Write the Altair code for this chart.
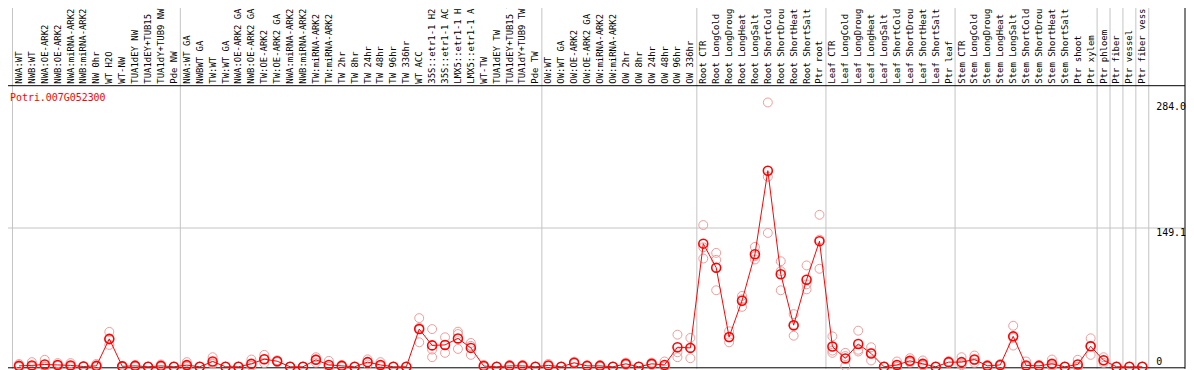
import altair as alt
import pandas as pd

labels = [
    "NWA:WT", "NWB:WT", "NWA:OE-ARK2", "NWB:OE-ARK2", "NWA:miRNA-ARK2", "NWB:miRNA-ARK2",
    "NW 0hr", "WT H2O", "WT-NW", "TUA1dEY NW", "TUA1dEY+TUB15 NW", "TUA1dY+TUB9 NW", "Pde NW",
    "NWA:WT GA", "NWBWT GA", "TW:WT", "TW:WT GA", "NWA:OE-ARK2 GA", "NWB:OE-ARK2 GA",
    "TW:OE-ARK2", "TW:OE-ARK2 GA", "NWA:miRNA-ARK2", "NWB:miRNA-ARK2", "TW:miRNA-ARK2",
    "TW:miRNA-ARK2", "TW 2hr", "TW 8hr", "TW 24hr", "TW 48hr", "TW 96hr", "TW 336hr",
    "WT ACC", "35S::etr1-1 H2O", "35S::etr1-1 ACC", "LMX5::etr1-1 H2O", "LMX5::etr1-1 ACC",
    "WT-TW", "TUA1dEY TW", "TUA1dEY+TUB15 TW", "TUA1dY+TUB9 TW", "Pde TW",
    "OW:WT", "OW:WT GA", "OW:OE-ARK2", "OW:OE-ARK2 GA", "OW:miRNA-ARK2", "OW:miRNA-ARK2",
    "OW 2hr", "OW 8hr", "OW 24hr", "OW 48hr", "OW 96hr", "OW 336hr",
    "Root CTR", "Root LongCold", "Root LongDrought", "Root LongHeat", "Root LongSalt",
    "Root ShortCold", "Root ShortDrought", "Root ShortHeat", "Root ShortSalt", "Ptr root",
    "Leaf CTR", "Leaf LongCold", "Leaf LongDrought", "Leaf LongHeat", "Leaf LongSalt",
    "Leaf ShortCold", "Leaf ShortDrought", "Leaf ShortHeat", "Leaf ShortSalt", "Ptr leaf",
    "Stem CTR", "Stem LongCold", "Stem LongDrought", "Stem LongHeat", "Stem LongSalt",
    "Stem ShortCold", "Stem ShortDrought", "Stem ShortHeat", "Stem ShortSalt", "Ptr shoot",
    "Ptr xylem", "Ptr phloem", "Ptr fiber", "Ptr vessel", "Ptr fiber vessel",
]

means = [
    1, 1.5, 2.5, 2, 1.5, 0.3, 1, 30, 0.5, 1, 0, 1, 0,
    1.8, 0, 5.7, 0, 0, 3.2, 8.2, 6, 0, 0, 7.5, 2, 1, 0, 5, 2, 0, 0,
    40.5, 23, 23.5, 30.5, 20.3, 0.8, 0, 1, 1, 0,
    1.5, 0, 4.3, 1, 1, 0, 3.2, 0, 3.2, 2, 21, 20.3,
    132.3, 106.5, 32, 71, 121, 210.7, 99.5, 44.7, 93.6, 135,
    21.7, 9, 24.5, 14.3, 0, 2, 6.4, 3.2, 0, 5,
    5, 7.8, 1, 2, 32.7, 1.5, 1, 3.2, 0, 2.5,
    22, 7, 0, 0, 0,
]

rep1 = [
    3, 5, 7.5, 4, 4, 0.5, 3, 37.5, 1, 2, 0, 2.5, 0,
    5, 0, 10.3, 0, 0, 7.8, 12.8, 7, 0, 0, 10.3, 6.4, 2, 0, 8, 5, 0, 0,
    52.3, 40.5, 31.7, 37.7, 25.6, 2, 0, 2, 2, 0,
    3, 0, 5.5, 1.5, 2, 0, 4.5, 0, 4.5, 5.7, 34.5, 31,
    152.3, 122.4, 38.1, 76.1, 128.8, 284.0, 113.4, 56.6, 108.9, 163.3,
    32.7, 15, 38.8, 21, 0, 5.7, 9.2, 6.8, 0, 6,
    10.3, 12.1, 2, 3, 44.1, 5.7, 2, 7.8, 0, 7.5,
    30.6, 10.3, 0, 0, 0,
]
rep2 = [
    0, 0, 0.5, 1, 0.5, 0.3, 0, 29, 0.5, 1, 0, 0.5, 0,
    0.5, 0, 4, 0, 0, 1, 8, 6, 0, 0, 8, 0, 1, 0, 5, 1, 0, 0,
    42, 18.5, 23.5, 35.2, 22.5, 0.5, 0, 1, 1, 0,
    1, 0, 4, 1, 1, 0, 3, 0, 3, 0.5, 15.6, 20.5,
    128.4, 114.9, 31.5, 72.5, 118.8, 204.2, 102.8, 44, 88.6, 136.6,
    17.4, 11.5, 18.3, 15, 0, 0.5, 5.5, 2, 0, 5,
    3, 7, 1, 2, 31, 0, 1, 1.5, 0, 0,
    22.5, 6.5, 0, 0, 0,
]
rep3 = [
    0, 0, 0, 1, 0, 0, 0, 23.5, 0, 0, 0, 0, 0,
    0, 0, 3, 0, 0, 1, 4, 5, 0, 0, 4.5, 0, 0, 0, 2.5, 0.5, 0, 0,
    26.3, 10.3, 15, 19.2, 12.8, 0, 0, 0, 0, 0,
    0.5, 0, 3.5, 0.5, 0, 0, 2, 0, 2, 0, 10.3, 9.2,
    116.3, 82.2, 26.3, 64.4, 115.3, 143.8, 82.2, 33.4, 83.2, 105.3,
    15, 0.7, 16.4, 6.8, 0, 0, 4.5, 1, 0, 4,
    1.7, 4.3, 0, 1, 22.8, 0, 0, 0.3, 0, 0,
    12.8, 4.2, 0, 0, 0,
]

separators = [-0.5, 12.5, 40.5, 52.5, 62.5, 72.5, 83.5, 84.5, 85.5, 86.5, 87.5]
grid_values = [149.1]
tick_top = [284.0, 149.1]
tick_top_text = ["284.0", "149.1"]
tick_bottom = [0]
tick_bottom_text = ["0"]
gene_id = "Potri.007G052300"

idx = list(range(len(labels)))
df_main = pd.DataFrame({"idx": idx, "label": labels, "mean": means})
df_reps = pd.DataFrame({
    "idx": idx * 3,
    "value": rep1 + rep2 + rep3,
})
df_sep = pd.DataFrame({"pos": separators})
df_grid = pd.DataFrame({"v": grid_values})
df_tt = pd.DataFrame({"v": tick_top, "t": tick_top_text})
df_tb = pd.DataFrame({"v": tick_bottom, "t": tick_bottom_text})
df_title = pd.DataFrame({"t": [gene_id]})

W = 1185
H = 283
X0 = -11 / 13
X1 = X0 + W / 13
xs = alt.Scale(domain=[X0, X1], nice=False, zero=False)
ys = alt.Scale(domain=[0, 302], nice=False, zero=False)
FONT = "DejaVu Sans Mono"

sep = alt.Chart(df_sep).mark_rule(color="#c4c4c4", strokeWidth=1).encode(
    x=alt.X("pos:Q", scale=xs, axis=None),
    y=alt.value(-80), y2=alt.value(H + 2),
)
grid = alt.Chart(df_grid).mark_rule(color="#c4c4c4", strokeWidth=1).encode(
    y=alt.Y("v:Q", scale=ys, axis=None),
    x=alt.value(-8), x2=alt.value(W),
)
top_border = alt.Chart(df_title).mark_rule(color="black", strokeWidth=1).encode(
    y=alt.value(0), x=alt.value(-8), x2=alt.value(W)
)
bottom_border = alt.Chart(df_title).mark_rule(color="black", strokeWidth=1).encode(
    y=alt.value(H + 1), x=alt.value(-8), x2=alt.value(W)
)
right_border = alt.Chart(df_title).mark_rule(color="black", strokeWidth=1).encode(
    x=alt.value(W), y=alt.value(-80), y2=alt.value(H + 2)
)

reps = alt.Chart(df_reps).mark_point(
    shape="circle", filled=False, size=81, color="#f09a9a", strokeWidth=1, opacity=1
).encode(
    x=alt.X("idx:Q", scale=xs, axis=None),
    y=alt.Y("value:Q", scale=ys, axis=None),
)
line = alt.Chart(df_main).mark_line(color="#ff0000", strokeWidth=1).encode(
    x=alt.X("idx:Q", scale=xs, axis=None),
    y=alt.Y("mean:Q", scale=ys, axis=None),
    order="idx:Q",
)
pts = alt.Chart(df_main).mark_point(
    shape="circle", filled=False, size=81, color="#ff0000", strokeWidth=1.6, opacity=1
).encode(
    x=alt.X("idx:Q", scale=xs, axis=None),
    y=alt.Y("mean:Q", scale=ys, axis=None),
)
lab = alt.Chart(df_main).mark_text(
    angle=270, align="left", baseline="middle", font=FONT, fontSize=9, color="black"
).encode(
    x=alt.X("idx:Q", scale=xs, axis=None),
    y=alt.value(-2),
    text="label:N",
)
title = alt.Chart(df_title).mark_text(
    align="left", baseline="middle", font=FONT, fontSize=10, color="#ff0000"
).encode(x=alt.value(2), y=alt.value(12), text="t:N")
tt = alt.Chart(df_tt).mark_text(
    align="left", baseline="top", font=FONT, fontSize=10, color="black"
).encode(x=alt.value(1156), y=alt.Y("v:Q", scale=ys, axis=None), text="t:N")
tb = alt.Chart(df_tb).mark_text(
    align="left", baseline="bottom", font=FONT, fontSize=10, color="black"
).encode(x=alt.value(1156), y=alt.Y("v:Q", scale=ys, axis=None), text="t:N")

chart = alt.layer(
    sep, grid, top_border, bottom_border, right_border,
    reps, line, pts, lab, title, tt, tb,
).properties(
    width=W, height=H,
    autosize=alt.AutoSizeParams(type="none"),
    padding={"left": 0, "top": 77, "right": 1, "bottom": 2},
    background="white",
).configure_view(stroke=None)

chart.save("out.html", embed_options={"renderer": "svg", "actions": False})
